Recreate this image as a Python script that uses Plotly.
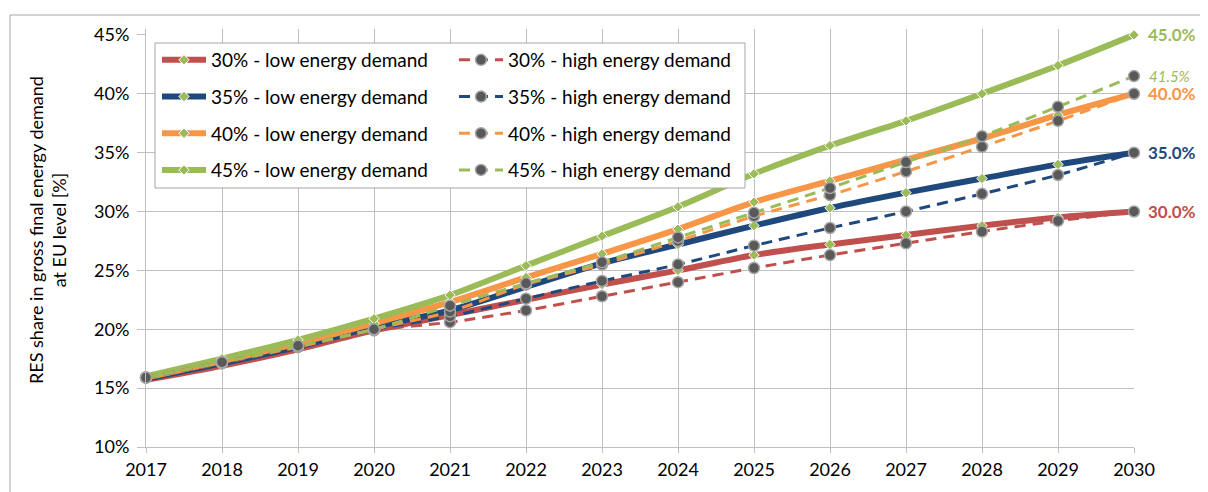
import plotly.graph_objects as go

years = list(range(2017, 2031))

low_30 = [15.7, 16.9, 18.3, 19.9, 21.2, 22.5, 23.8, 25.0, 26.3, 27.2, 28.0, 28.8, 29.5, 30.0]
low_35 = [15.8, 17.1, 18.5, 20.2, 21.6, 23.6, 25.6, 27.2, 28.8, 30.3, 31.6, 32.8, 34.0, 35.0]
low_40 = [15.9, 17.3, 18.8, 20.5, 22.3, 24.4, 26.4, 28.5, 30.8, 32.6, 34.4, 36.2, 38.2, 40.0]
low_45 = [16.0, 17.5, 19.1, 20.9, 22.9, 25.4, 27.9, 30.4, 33.2, 35.6, 37.7, 40.0, 42.4, 45.0]

high_30 = [15.9, 17.1, 18.5, 19.9, 20.6, 21.6, 22.8, 24.0, 25.2, 26.3, 27.3, 28.3, 29.2, 30.0]
high_35 = [15.9, 17.2, 18.5, 20.0, 21.1, 22.6, 24.1, 25.5, 27.1, 28.6, 30.0, 31.5, 33.1, 35.0]
high_40 = [15.9, 17.2, 18.5, 20.0, 21.5, 23.8, 25.5, 27.5, 29.6, 31.4, 33.4, 35.5, 37.7, 40.0]
high_45 = [15.9, 17.2, 18.6, 20.0, 22.0, 23.9, 25.7, 27.8, 29.9, 32.0, 34.2, 36.4, 38.9, 41.5]

targets = ["30%", "35%", "40%", "45%"]
low_series = [low_30, low_35, low_40, low_45]
high_series = [high_30, high_35, high_40, high_45]
colors = ["#C0504D", "#1F497D", "#F79646", "#9BBB59"]

end_labels = ["30.0%", "35.0%", "40.0%", "45.0%"]
end_high_label = "41.5%"

y_ticks = [10, 15, 20, 25, 30, 35, 40, 45]
y_ticktext = ["10%", "15%", "20%", "25%", "30%", "35%", "40%", "45%"]
y_grid = [15, 20, 25, 30, 35, 40]

FONT = "Lato"

fig = go.Figure()

for t, ys, c in zip(targets, low_series, colors):
    fig.add_trace(go.Scatter(
        x=years, y=ys, mode="lines+markers", name=f"{t} - low energy demand",
        line=dict(color=c, width=6, shape="spline", smoothing=0.8),
        marker=dict(symbol="diamond", size=8, color="#9BBB59",
                    line=dict(color="white", width=1)),
        cliponaxis=False, legend="legend", legendgroup="l" + t,
    ))

for t, ys, c in zip(targets, high_series, colors):
    fig.add_trace(go.Scatter(
        x=years, y=ys, mode="lines+markers", name=f"{t} - high energy demand",
        line=dict(color=c, width=3, dash="11px,7px", shape="spline", smoothing=0.8),
        marker=dict(symbol="circle", size=11, color="#595959",
                    line=dict(color="#A6A6A6", width=1.5)),
        cliponaxis=False, legend="legend2", legendgroup="h" + t,
    ))

# end-point labels
for lab, ys, c in zip(end_labels, low_series, colors):
    fig.add_annotation(x=years[-1], y=ys[-1], text=f"<b>{lab}</b>", showarrow=False,
                       xanchor="left", yanchor="middle", xshift=12,
                       font=dict(family=FONT, size=17, color=c))
fig.add_annotation(x=years[-1], y=high_45[-1], text=f"<i>{end_high_label}</i>", showarrow=False,
                   xanchor="left", yanchor="middle", xshift=13,
                   font=dict(family=FONT, size=15, color=colors[3]))

# page layout (the page body adds an 8px offset)
OFF = 8
W, H = 1208 - OFF, 492 - OFF
ml, mr, mt, mb = 146 - OFF, 74, 29 - OFF, 45
PL, PR, PT, PB = 146, 1134, 29, 447   # plot area in page pixels


def px_x(p):
    return (p - PL) / (PR - PL)


def px_y(p):
    return (PB - p) / (PB - PT)


# y-axis title
fig.add_annotation(xref="paper", yref="paper", x=px_x(47), y=px_y(230),
                   text="RES share in gross final energy demand<br>at EU level [%]",
                   textangle=-90, showarrow=False, xanchor="center", yanchor="middle",
                   font=dict(family=FONT, size=18, color="black"))

# outer border
fig.add_shape(type="rect", xref="paper", yref="paper",
              x0=px_x(10), x1=px_x(1215), y0=px_y(500), y1=px_y(15),
              line=dict(color="#A6A6A6", width=1), fillcolor="rgba(0,0,0,0)", layer="below")
# legend box
fig.add_shape(type="rect", xref="paper", yref="paper",
              x0=px_x(155), x1=px_x(745), y0=px_y(188), y1=px_y(43),
              line=dict(color="#A6A6A6", width=1), fillcolor="white", layer="above")

leg_common = dict(xanchor="left", yanchor="top", bgcolor="rgba(0,0,0,0)", borderwidth=0,
                  tracegroupgap=9, itemwidth=44,
                  font=dict(family=FONT, size=19, color="black"))

fig.update_layout(
    width=W, height=H,
    margin=dict(l=ml, r=mr, t=mt, b=mb),
    paper_bgcolor="white", plot_bgcolor="white",
    font=dict(family=FONT, size=18, color="black"),
    showlegend=True,
    legend=dict(x=px_x(157), y=px_y(41), **leg_common),
    legend2=dict(x=px_x(454), y=px_y(41), **leg_common),
    xaxis=dict(range=[2017, 2030], dtick=1, tick0=2017, showgrid=True,
               gridcolor="#BFBFBF", gridwidth=1, showline=True, linecolor="#BFBFBF",
               ticks="outside", ticklen=5, tickcolor="#BFBFBF", zeroline=False,
               tickfont=dict(family=FONT, size=18, color="black"), ticklabelstandoff=1),
    yaxis=dict(range=[10, 45.5], tickvals=y_ticks, ticktext=y_ticktext,
               showgrid=False, showline=True,
               linecolor="#BFBFBF", ticks="outside", ticklen=8, tickcolor="#BFBFBF",
               zeroline=False, tickfont=dict(family=FONT, size=18, color="black"),
               ticklabelstandoff=4,
               minor=dict(tickmode="array", tickvals=y_grid, showgrid=True,
                          gridcolor="#BFBFBF", gridwidth=1, ticks="")),
)

fig.write_html("out.html")
